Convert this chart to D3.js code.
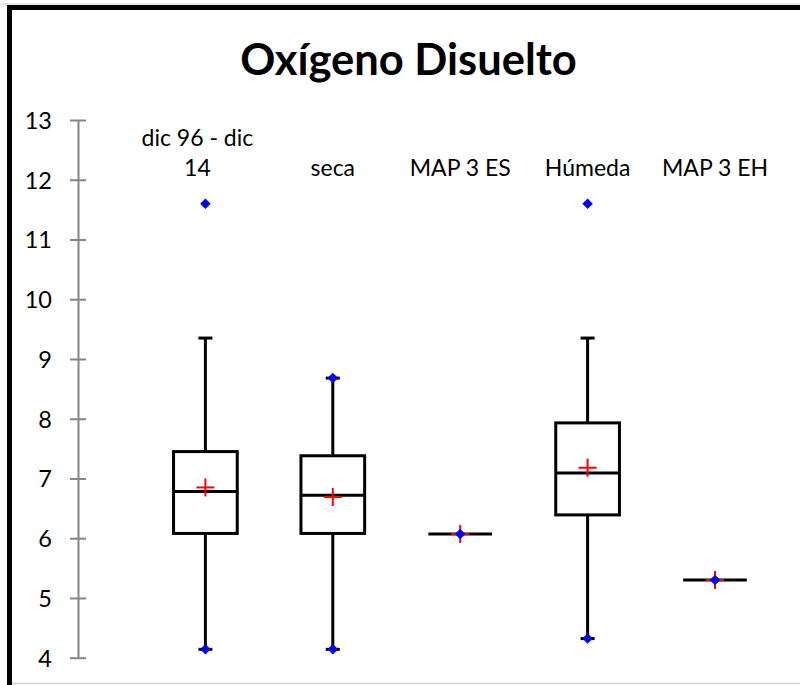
<!DOCTYPE html>
<html>
<head>
<meta charset="utf-8">
<script src="https://cdn.jsdelivr.net/npm/d3@7"></script>
<style>
  html, body { margin: 0; padding: 0; background: #fff; }
  svg { display: block; }
  text { font-family: Lato, "Open Sans", sans-serif; fill: #000; }
</style>
</head>
<body>
<div id="chart"></div>
<script>
// Dissolved oxygen (mg/L) summary statistics per period
const categories = ["dic 96 - dic 14", "seca", "MAP 3 ES", "Húmeda", "MAP 3 EH"];
const labelLines = [["dic 96 - dic", "14"], ["seca"], ["MAP 3 ES"], ["Húmeda"], ["MAP 3 EH"]];
const minValues     = [4.14, 4.14, 6.07, 4.32, 5.30];
const q1Values      = [6.08, 6.08, 6.07, 6.39, 5.30];
const medianValues  = [6.78, 6.72, 6.07, 7.09, 5.30];
const q3Values      = [7.45, 7.38, 6.07, 7.93, 5.30];
const upperWhisker  = [9.35, 8.68, 6.07, 9.35, 5.30];
const maxValues     = [11.6, 8.68, 6.07, 11.6, 5.30];
const meanValues    = [6.85, 6.69, 6.07, 7.18, 5.30];
const yTicks = [4, 5, 6, 7, 8, 9, 10, 11, 12, 13];

const W = 800, H = 685;
const svg = d3.select("#chart").append("svg")
  .attr("width", W).attr("height", H);

svg.append("rect").attr("width", W).attr("height", H).attr("fill", "#fff");

// chart frame
svg.append("line").attr("x1", 0).attr("x2", W).attr("y1", 4).attr("y2", 4)
  .attr("stroke", "#d4d4d4").attr("stroke-width", 1);
svg.append("line").attr("x1", 12).attr("x2", W).attr("y1", 683.5).attr("y2", 683.5)
  .attr("stroke", "#d0d0d0").attr("stroke-width", 1.5);
svg.append("rect").attr("x", 7).attr("y", 5).attr("width", W - 7).attr("height", 5).attr("fill", "#000");
svg.append("rect").attr("x", 7).attr("y", 5).attr("width", 5).attr("height", H - 5).attr("fill", "#000");

// title
svg.append("text")
  .attr("x", 408.5).attr("y", 75)
  .attr("text-anchor", "middle")
  .style("font-size", "43.5px").style("font-weight", "bold")
  .text("Oxígeno Disuelto");

const axisX = 78;
const y = d3.scaleLinear().domain([4, 13]).range([657.7, 120]);
const x = d3.scaleBand().domain(categories)
  .range([141.7, 778.7]).paddingInner(0.5).paddingOuter(0.25);
const bw = x.bandwidth();
const cx = c => x(c) + bw / 2;

// y axis with ticks crossing the axis line
const axisG = svg.append("g").attr("transform", `translate(${axisX},0)`)
  .call(d3.axisLeft(y).tickValues(yTicks).tickSizeOuter(0).tickFormat(d3.format("d")));
axisG.select(".domain").attr("stroke", "#868686").attr("stroke-width", 2);
axisG.selectAll(".tick line").attr("x1", -8).attr("x2", 8)
  .attr("stroke", "#868686").attr("stroke-width", 2);
axisG.selectAll(".tick text").attr("x", -26).attr("dy", "0.36em")
  .style("font-size", "23.5px").style("font-family", "Lato, 'Open Sans', sans-serif").attr("fill", "#000");

// category labels above the plot
const lab = svg.append("g");
categories.forEach((c, i) => {
  const lines = labelLines[i];
  const dx = lines.length > 1 ? -8 : 0;
  lines.forEach((ln, j) => {
    lab.append("text")
      .attr("x", cx(c) + dx)
      .attr("y", 176 - (lines.length - 1 - j) * 30)
      .attr("text-anchor", "middle")
      .style("font-size", "23px")
      .text(ln);
  });
});

const stats = categories.map((c, i) => ({
  c, min: minValues[i], q1: q1Values[i], med: medianValues[i], q3: q3Values[i],
  hi: upperWhisker[i], max: maxValues[i], mean: meanValues[i]
}));

const g = svg.append("g").attr("stroke", "#000").attr("stroke-width", 3).attr("fill", "none");
const capHalf = 7;

stats.forEach(s => {
  const xc = cx(s.c);
  // whiskers
  if (s.q1 > s.min) {
    g.append("line").attr("x1", xc).attr("x2", xc).attr("y1", y(s.q1)).attr("y2", y(s.min));
    g.append("line").attr("x1", xc - capHalf).attr("x2", xc + capHalf).attr("y1", y(s.min)).attr("y2", y(s.min));
  }
  if (s.hi > s.q3) {
    g.append("line").attr("x1", xc).attr("x2", xc).attr("y1", y(s.q3)).attr("y2", y(s.hi));
    g.append("line").attr("x1", xc - capHalf).attr("x2", xc + capHalf).attr("y1", y(s.hi)).attr("y2", y(s.hi));
  }
  // box
  if (s.q3 > s.q1) {
    g.append("rect").attr("x", x(s.c)).attr("y", y(s.q3))
      .attr("width", bw).attr("height", y(s.q1) - y(s.q3));
  }
  // median
  g.append("line").attr("x1", x(s.c)).attr("x2", x(s.c) + bw)
    .attr("y1", y(s.med)).attr("y2", y(s.med));
});

// mean markers (red crosses)
const crossHalf = 9;
const crosses = svg.append("g").attr("stroke", "#ff0000").attr("stroke-width", 2);
stats.forEach(s => {
  const xc = cx(s.c), ym = y(s.mean);
  crosses.append("line").attr("x1", xc - crossHalf).attr("x2", xc + crossHalf).attr("y1", ym).attr("y2", ym);
  crosses.append("line").attr("x1", xc).attr("x2", xc).attr("y1", ym - crossHalf).attr("y2", ym + crossHalf);
});

// minimum and maximum markers (blue diamonds)
const diamond = d3.symbol().type(d3.symbolDiamond2).size(70);
const dg = svg.append("g").attr("fill", "#0000ff");
stats.forEach(s => {
  const xc = cx(s.c);
  const pts = s.min === s.max ? [s.min] : [s.min, s.max];
  pts.forEach(v => {
    dg.append("path").attr("d", diamond).attr("transform", `translate(${xc},${y(v)})`);
  });
});
</script>
</body>
</html>
